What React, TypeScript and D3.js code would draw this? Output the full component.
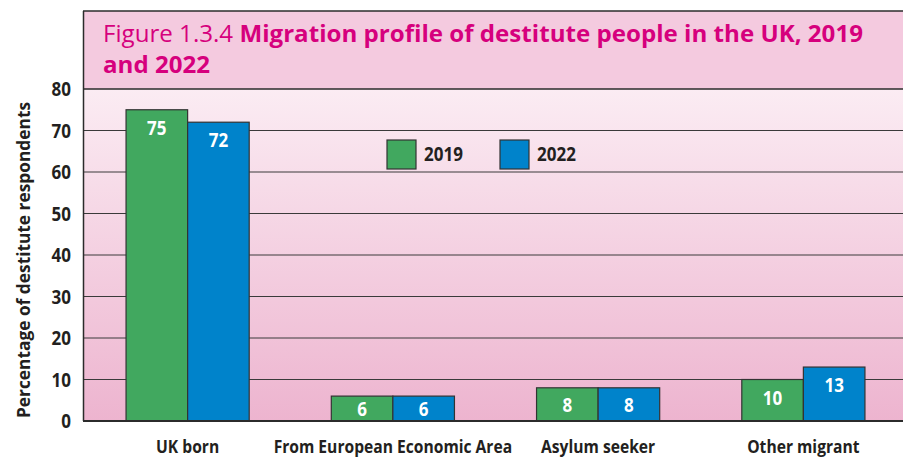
import React from "react";
import * as d3 from "d3";

const categories = ["UK born", "From European Economic Area", "Asylum seeker", "Other migrant"];
const seriesNames = ["2019", "2022"];
const values2019 = [75, 6, 8, 10];
const values2022 = [72, 6, 8, 13];
const yTicks = [0, 10, 20, 30, 40, 50, 60, 70, 80];
const colors = ["#41a85f", "#0083cb"];

const W = 903;
const H = 458;
const frameLeft = 83;
const frameTop = 11;
const plotTop = 89;
const plotBottom = 421;
const FONT = "'Open Sans', 'Noto Sans', sans-serif";

function sx(cx: number, k = 0.85) {
  return `translate(${cx},0) scale(${k},1) translate(${-cx},0)`;
}

export default function App() {
  const y = d3.scaleLinear().domain([0, 80]).range([plotBottom, plotTop]);
  const x = d3.scaleBand<string>().domain(categories).range([85, 906]).paddingInner(0.4).paddingOuter(0.2);
  const xs = d3.scaleBand<string>().domain(seriesNames).range([0, x.bandwidth()]);
  const series = [values2019, values2022];

  return (
    <svg width={W} height={H} style={{ position: "absolute", left: 0, top: 0 }}>
      <defs>
        <linearGradient id="plotbg" x1="0" y1="0" x2="0" y2="1">
          <stop offset="0" stopColor="#fbecf3" />
          <stop offset="1" stopColor="#edb4cf" />
        </linearGradient>
      </defs>
      <rect x={0} y={0} width={W} height={H} fill="#ffffff" />
      <rect x={frameLeft} y={frameTop} width={W - frameLeft} height={plotTop - frameTop} fill="#f4cadf" />
      <rect x={frameLeft} y={plotTop} width={W - frameLeft} height={plotBottom - plotTop} fill="url(#plotbg)" />
      <text x={103} y={42} fontFamily={FONT} fontSize={23.5} fill="#d6007d" textLength={760} lengthAdjust="spacingAndGlyphs">
        <tspan>Figure 1.3.4 </tspan>
        <tspan fontWeight="bold">Migration profile of destitute people in the UK, 2019</tspan>
      </text>
      <text x={103} y={73} fontFamily={FONT} fontSize={23.5} fontWeight="bold" fill="#d6007d" textLength={107} lengthAdjust="spacingAndGlyphs">
        and 2022
      </text>
      {yTicks.filter((t) => t > 0 && t < 80).map((t) => (
        <line key={t} x1={frameLeft} x2={W} y1={y(t)} y2={y(t)} stroke="#3a3a3a" strokeWidth={1} />
      ))}
      <line x1={frameLeft} x2={W} y1={frameTop} y2={frameTop} stroke="#2b2b2b" strokeWidth={1.5} />
      <line x1={frameLeft} x2={W} y1={plotTop} y2={plotTop} stroke="#2b2b2b" strokeWidth={1.5} />
      <line x1={frameLeft + 0.5} x2={frameLeft + 0.5} y1={frameTop} y2={plotBottom} stroke="#2b2b2b" strokeWidth={1.5} />
      {categories.map((c, i) =>
        seriesNames.map((s, j) => {
          const v = series[j][i];
          const bx = (x(c) as number) + (xs(s) as number);
          const top = y(v);
          const h = plotBottom - top;
          const cy = h < 36 ? top + h / 2 : top + 18;
          const cx = bx + xs.bandwidth() / 2;
          return (
            <g key={c + s}>
              <rect x={bx} y={top} width={xs.bandwidth()} height={h} fill={colors[j]} stroke="#333" strokeWidth={1.2} />
              <text x={cx} y={cy} dy="0.36em" textAnchor="middle" fontFamily={FONT} fontWeight="bold" fontSize={20} fill="#ffffff" transform={sx(cx)}>
                {v}
              </text>
            </g>
          );
        })
      )}
      <line x1={frameLeft} x2={W} y1={plotBottom} y2={plotBottom} stroke="#2b2b2b" strokeWidth={2.2} />
      {yTicks.map((t) => (
        <text key={t} x={71} y={y(t)} dy="0.36em" textAnchor="end" fontFamily={FONT} fontWeight="bold" fontSize={20} fill="#231f20" transform={sx(71)}>
          {t}
        </text>
      ))}
      <text transform={`translate(30,260) rotate(-90)`} textAnchor="middle" fontFamily={FONT} fontWeight="bold" fontSize={18.5} fill="#231f20" textLength={316} lengthAdjust="spacingAndGlyphs">
        Percentage of destitute respondents
      </text>
      {categories.map((c) => {
        const cx = (x(c) as number) + x.bandwidth() / 2;
        return (
          <text key={c} x={cx} y={453} textAnchor="middle" fontFamily={FONT} fontWeight="bold" fontSize={18.5} fill="#231f20" transform={sx(cx, 0.845)}>
            {c}
          </text>
        );
      })}
      {seriesNames.map((s, j) => {
        const lx = j === 0 ? 387 : 500;
        return (
          <g key={s}>
            <rect x={lx} y={140} width={29} height={29} fill={colors[j]} stroke="#333" strokeWidth={1.2} />
            <text x={lx + 37} y={161.5} fontFamily={FONT} fontWeight="bold" fontSize={20} fill="#231f20" transform={sx(lx + 37)}>
              {s}
            </text>
          </g>
        );
      })}
    </svg>
  );
}
